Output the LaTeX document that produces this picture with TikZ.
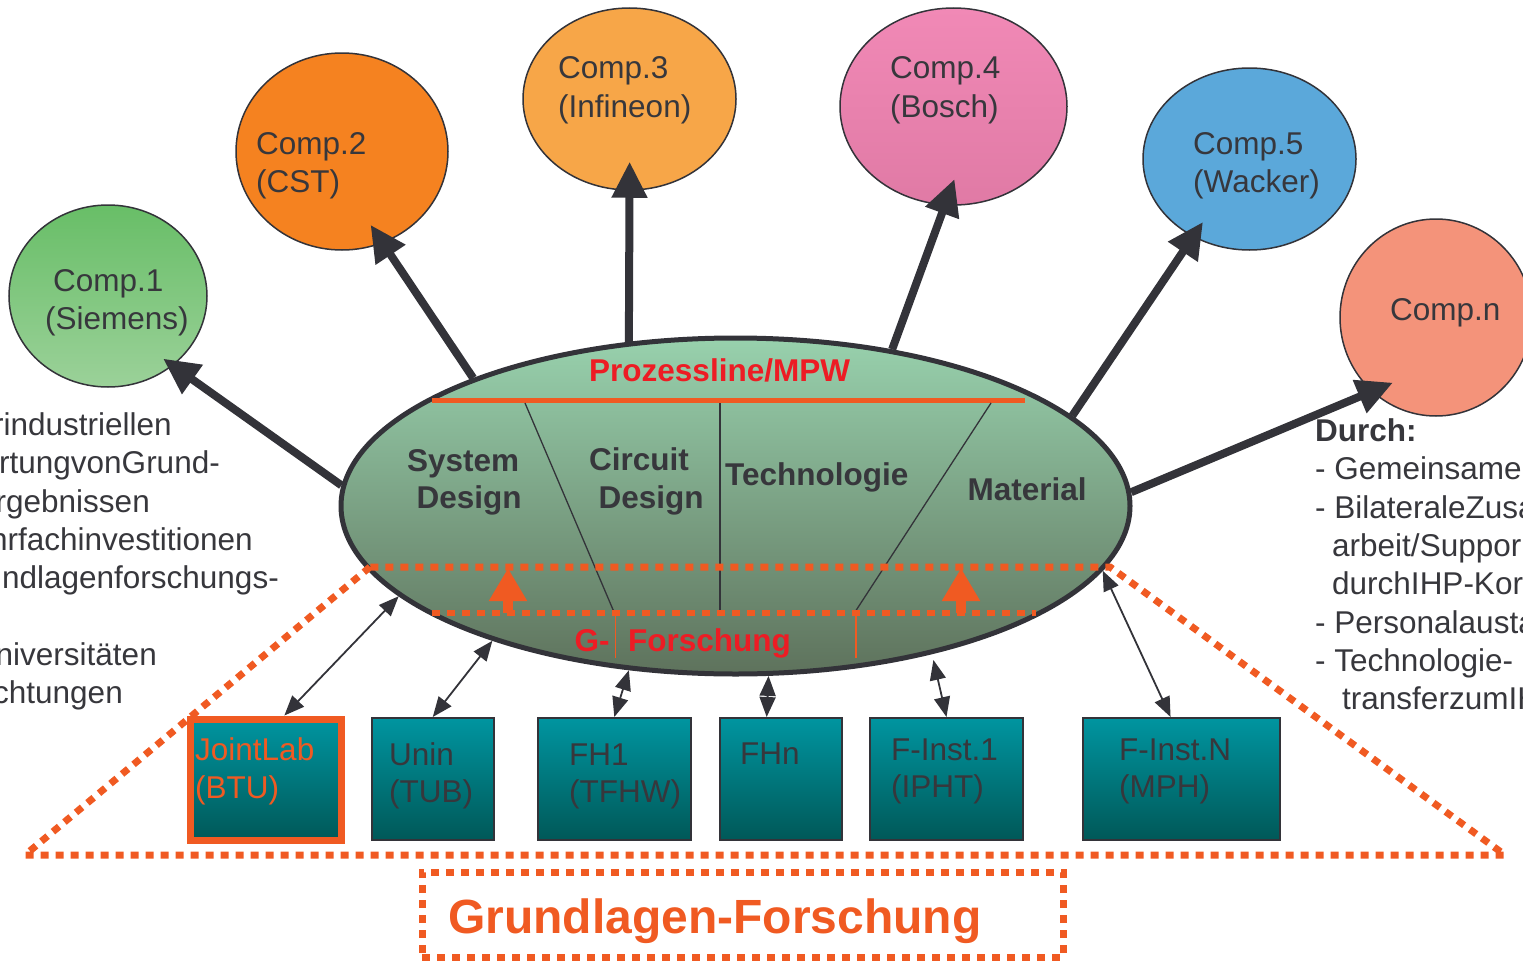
\documentclass[tikz,border=0pt]{standalone}
\usepackage{fontspec}
\setmainfont{Liberation Sans}
\usetikzlibrary{arrows.meta,shapes.geometric}
\definecolor{dk}{RGB}{51,51,57}
\definecolor{txt}{RGB}{55,55,60}
\definecolor{org}{RGB}{240,90,34}
\definecolor{rd}{RGB}{237,28,36}
\definecolor{gtop}{RGB}{152,209,173}
\definecolor{gmid}{RGB}{128,168,142}
\definecolor{gbot}{RGB}{94,114,92}
\definecolor{tealA}{RGB}{0,149,160}
\definecolor{tealB}{RGB}{0,88,88}
\definecolor{cAtop}{RGB}{104,190,103}
\definecolor{cAbot}{RGB}{155,209,153}
\definecolor{cBcol}{RGB}{245,130,32}
\definecolor{cCcol}{RGB}{247,166,72}
\definecolor{cDtop}{RGB}{241,137,182}
\definecolor{cDbot}{RGB}{224,122,165}
\definecolor{cEcol}{RGB}{91,168,218}
\definecolor{cNcol}{RGB}{244,147,122}
\newcommand\fsreg{\fontsize{31.5}{36}\selectfont}
\newcommand\fsbold{\bfseries\fontsize{31.5}{36}\selectfont}
\begin{document}
\begin{tikzpicture}[x=1pt,y=-1pt,
 comp/.style={ellipse, draw=dk, line width=1.5pt, inner sep=0pt},
 lbl/.style={anchor=base west, inner sep=0pt, text=txt, font=\fsreg},
 blbl/.style={anchor=base west, inner sep=0pt, text=txt, font=\fsbold},
 rlbl/.style={anchor=base west, inner sep=0pt, text=rd, font=\fsbold},
 sidel/.style={anchor=base east, inner sep=0pt, text=txt, font=\fsreg},
 box/.style={rectangle, draw=dk, line width=2pt, top color=tealA, bottom color=tealB, inner sep=0pt, minimum height=122},
 bigarrow/.style={draw=dk, line width=8pt, -{Triangle[length=36pt,width=34pt]}},
 biarrow/.style={draw=dk, line width=1.8pt, {Triangle[length=20pt,width=16pt]}-{Triangle[length=20pt,width=16pt]}},
 odot/.style={draw=org, line width=7pt, dash pattern=on 8pt off 7pt},
 uparrow/.style={draw=org, line width=10pt, -{Triangle[length=33pt,width=36pt]}}
]
\useasboundingbox (0,0) rectangle (1523,961);

% company circles
\node[comp, minimum width=198, minimum height=182, top color=cAtop, bottom color=cAbot] (c1) at (108,296) {};
\node[comp, minimum width=212, minimum height=197, fill=cBcol] (c2) at (342,151.5) {};
\node[comp, minimum width=213, minimum height=182, fill=cCcol] (c3) at (629.5,99) {};
\node[comp, minimum width=227, minimum height=197, top color=cDtop, bottom color=cDbot] (c4) at (953.5,106.5) {};
\node[comp, minimum width=213, minimum height=182, fill=cEcol] (c5) at (1249.5,159) {};
\node[comp, minimum width=192, minimum height=197, fill=cNcol] (cn) at (1436,317.5) {};

\node[lbl] (c1a) at (53,291) {Comp.1};
\node[lbl] (c1b) at (45,329) {(Siemens)};
\node[lbl] (c2a) at (256,154) {Comp.2};
\node[lbl] (c2b) at (256,192.5) {(CST)};
\node[lbl] (c3a) at (558,78.5) {Comp.3};
\node[lbl] (c3b) at (558,117) {(Infineon)};
\node[lbl] (c4a) at (890,78.5) {Comp.4};
\node[lbl] (c4b) at (890,117) {(Bosch)};
\node[lbl] (c5a) at (1193,154) {Comp.5};
\node[lbl] (c5b) at (1193,192.5) {(Wacker)};
\node[lbl] (cna) at (1390,320.5) {Comp.n};

% central ellipse
\node[ellipse, draw=dk, line width=5pt, minimum width=789, minimum height=336, inner sep=0pt,
      top color=gtop, middle color=gmid, bottom color=gbot] (main) at (735.5,506) {};

% big arrows to companies
\draw[bigarrow, shorten >=-12pt] (main.177.7) -- (c1.-47.4);
\draw[bigarrow, shorten >=-22pt] (main.154.7) -- (c2.-66.4);
\draw[bigarrow, shorten >=-29pt] (main.123.5) -- (c3.-90);
\draw[bigarrow, shorten >=-28pt] (main.45.3) -- (c4.-95.7);
\draw[bigarrow, shorten >=-18pt] (main.15.3) -- (c5.-126.6);
\draw[bigarrow, shorten >=-23pt] (main.2.3) -- (cn.-131.6);

% inner structure
\draw[org, line width=5pt] (432,400) -- (1025,400);
\draw[dk, line width=1.3pt] (525,403) -- (614,612);
\draw[dk, line width=1.3pt] (720,403) -- (720,612);
\draw[dk, line width=1.3pt] (991,403) -- (855,612);
\draw[org, line width=1.8pt] (615.5,613) -- (615.5,658);
\draw[org, line width=1.8pt] (856,613) -- (856,658);
\draw[odot] (370,567) -- (25,855) -- (1505,855) -- (1110,567) -- cycle;
\draw[odot, line width=6pt] (432,613) -- (1036,613);
\coordinate (ua1) at (508,613); \coordinate (ub1) at (508,568);
\coordinate (ua2) at (961,613); \coordinate (ub2) at (961,568);
\draw[uparrow] (ua1) -- (ub1);
\draw[uparrow] (ua2) -- (ub2);

\node[rlbl] (pl) at (589,381.5) {Prozessline/MPW};
\node[blbl] (sd1) at (407,471.5) {System};
\node[blbl] (sd2) at (416.5,508) {Design};
\node[blbl] (cd1) at (589,470.5) {Circuit};
\node[blbl] (cd2) at (598.5,508) {Design};
\node[blbl] (tech) at (725,485.5) {Technologie};
\node[blbl] (mat) at (967.5,500.5) {Material};
\node[rlbl] (gf1) at (574.5,651.5) {G-};
\node[rlbl] (gf2) at (628,651.5) {Forschung};

% research boxes
\node[box, draw=org, line width=7pt, minimum width=151.5, minimum height=121] (jl) at (266,779.5) {};
\node[box, minimum width=121.5] (unin) at (432.75,779) {};
\node[box, minimum width=152.7] (fh1) at (614.3,779) {};
\node[box, minimum width=122] (fhn) at (781,779) {};
\node[box, minimum width=153] (fi1) at (946.5,779) {};
\node[box, minimum width=197] (fin) at (1181.5,779) {};

\node[lbl, text=org] (jla) at (195,760) {JointLab};
\node[lbl, text=org] (jlb) at (195,798) {(BTU)};
\node[lbl] (una) at (389,765) {Unin};
\node[lbl] (unb) at (389,802) {(TUB)};
\node[lbl] (fha) at (569,765) {FH1};
\node[lbl] (fhb) at (569,802) {(TFHW)};
\node[lbl] (fna) at (740,764) {FHn};
\node[lbl] (fia) at (891,760) {F-Inst.1};
\node[lbl] (fib) at (891,797) {(IPHT)};
\node[lbl] (fNa) at (1119,760) {F-Inst.N};
\node[lbl] (fNb) at (1119,797) {(MPH)};

% double arrows
\draw[biarrow] (jl.74.3) -- (main.195.2);
\draw[biarrow] (unin.north) -- (main.209.4);
\draw[biarrow] (fh1.north) -- (main.237);
\draw[biarrow] (fhn.103.8) -- (main.-79.8);
\draw[biarrow, shorten >=6pt] (fi1.north) -- (main.-37.3);
\draw[biarrow] (fin.100.7) -- (main.-10.3);

% Grundlagen-Forschung
\node[draw=org, line width=7pt, dash pattern=on 8pt off 7pt, minimum width=641, minimum height=85, inner sep=0pt] (gfbox) at (742.5,914.5) {};
\node[anchor=base west, inner sep=0pt, text=org, font=\bfseries\fontsize{48}{56}\selectfont] (gft) at (448,933) {Grundlagen-Forschung};

% left text (cut at the left edge, as in the reference)
\node[sidel] (l1) at (172,435) {rindustriellen};
\node[sidel] (l2) at (220,473) {rtungvonGrund-};
\node[sidel] (l3) at (150,512) {rgebnissen};
\node[sidel] (l4) at (253,550) {nrfachinvestitionen};
\node[sidel] (l5) at (279,588) {ndlagenforschungs-};
\node[sidel] (l6) at (157,665) {niversitäten};
\node[sidel] (l7) at (123,703) {chtungen};

% right text (cut at the right edge, as in the reference)
\node[blbl] (durch) at (1315,441) {Durch:};
\node[lbl] (r1) at (1315,479) {- Gemeinsame};
\node[lbl] (r2) at (1315,518) {- BilateraleZusa};
\node[lbl] (r3) at (1332,556) {arbeit/Suppor};
\node[lbl] (r4) at (1332,594) {durchIHP-Kor};
\node[lbl] (r5) at (1315,633) {- Personalausta};
\node[lbl] (r6) at (1315,671) {- Technologie-};
\node[lbl] (r7) at (1342,709) {transferzumIH};
\end{tikzpicture}
\end{document}
